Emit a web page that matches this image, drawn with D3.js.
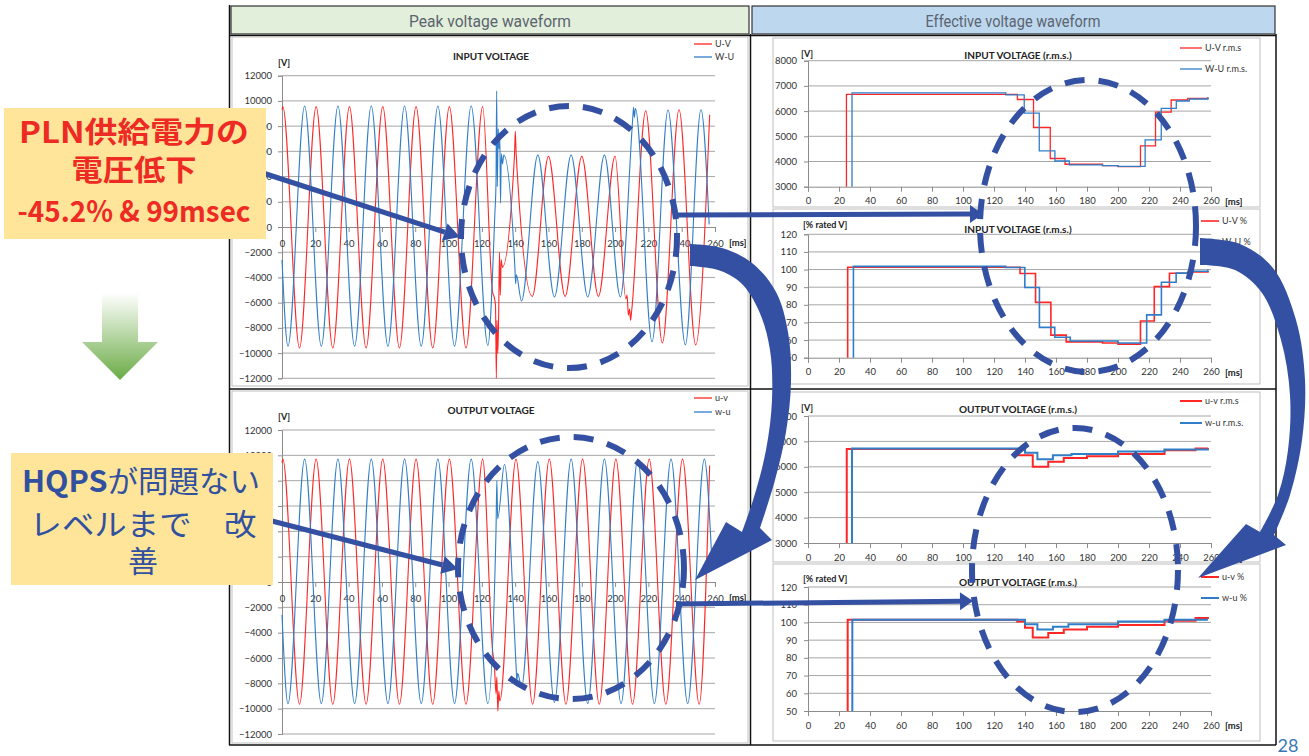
<!DOCTYPE html>
<html><head><meta charset="utf-8">
<script src="https://cdn.jsdelivr.net/npm/d3@7/dist/d3.min.js"></script>
<style>
body{margin:0;background:#fff;}
svg text{font-family:Lato,"Noto Sans",sans-serif;fill:#222;}
.cjk{font-family:"Noto Sans CJK JP","Noto Sans",sans-serif;}
</style></head><body>
<svg id="slide" width="1309" height="756"></svg>
<script>
// ---- data ----
const msTicks = [0,20,40,60,80,100,120,140,160,180,200,220,240,260];
const peakTicks = [-12000,-10000,-8000,-6000,-4000,-2000,0,2000,4000,6000,8000,10000,12000];
const rmsTicks = [3000,4000,5000,6000,7000,8000];
const pctTicks = [50,60,70,80,90,100,110,120];

// peak waveforms: extrema [ms, V]
const inUV = [[0,9300],[0.5,9550],[10.5,-9600],[20.5,9550],[30.5,-9600],[40.5,9550],[50.5,-9600],[60.5,9550],[70.5,-9600],[80.5,9550],[90.5,-9600],[100.5,9550],[110.5,-9600],[120.5,9550],
  [126.5,-5200],[127.3,-5500],[128.2,-6200],[128.7,-12000],[129.1,-7400],[129.6,-10000],[130.1,-7000],[130.6,-2000],[131.1,-5400],[131.6,-2600],[132.3,-3200],
  [139.6,5700],[140.1,7600],[140.6,5800],[150.3,-5500],[160,5600],[170,-5500],[180,5600],[190,-5500],[200,5600],
  [206.5,-5700],[207.2,-5400],[208,-7000],[208.7,-6500],[209.3,-7400],[210,-6600],[218.4,9220],[228.4,-9200],[238.4,9300],[248.4,-9350],[256.8,8900]];
const inWU = [[0,-2600],[3.6,-9450],[13.6,9600],[23.6,-9450],[33.6,9600],[43.6,-9450],[53.6,9600],[63.6,-9450],[73.6,9600],[83.6,-9450],[93.6,9600],[103.6,-9450],[113.6,9600],[123.6,-9400],
  [127.8,1000],[128.5,3500],[128.9,10800],[129.3,3200],[129.8,7800],[130.3,6200],[130.8,7200],[131.2,1900],[131.7,5800],[132.4,5000],[133.2,5700],
  [139.9,-3400],[140.3,-4500],[140.7,-3800],[143.8,-5870],[153.6,5700],[163.6,-5550],[173.6,5700],[183.6,-5550],[193.6,5700],[203.2,-5550],
  [210.6,8600],[211.1,9500],[211.6,8700],[212.2,9400],[222.2,-9100],[231.8,9280],[242.2,-9360],[251.6,9300],[256.5,200]];
const outUV = [[0,9400],[0.5,9700],[10.5,-9650],[20.5,9700],[30.5,-9650],[40.5,9700],[50.5,-9650],[60.5,9700],[70.5,-9650],[80.5,9700],[90.5,-9650],[100.5,9700],[110.5,-9650],[120.5,9700],
  [126.5,-5500],[127.5,-6500],[128.5,-8800],[129,-7500],[129.6,-10200],[130.2,-8600],[130.8,-9400],
  [140.5,9700],[150.5,-9650],[160.5,9700],[170.5,-9650],[180.5,9700],[190.5,-9650],[200.5,9700],[210.5,-9650],[220.5,9700],[230.5,-9650],[240.5,9700],[250.5,-9650],[256.8,9200]];
const outWU = [[0,-2600],[3.6,-9600],[13.6,9700],[23.6,-9600],[33.6,9700],[43.6,-9600],[53.6,9700],[63.6,-9600],[73.6,9700],[83.6,-9600],[93.6,9700],[103.6,-9600],[113.6,9700],[123.6,-9600],
  [128.5,4000],[129,8000],[129.5,5000],[133.6,9300],[140.5,-6500],[141,-7800],[141.5,-7200],[143.8,-8300],[153.6,9500],[163.6,-9500],[173.6,9700],[183.6,-9600],[193.6,9700],[203.6,-9600],
  [213.6,9700],[223.6,-9600],[233.6,9700],[243.6,-9600],[253.6,9700],[258,2000]];

// r.m.s. step series [ms, level from that time]
const inUVrms = [[24.8,3000],[24.8,6660],[135.1,6460],[145.5,5350],[156.3,4120],[165.8,3890],[190,3840],[200,3800],[214.5,4620],[224.2,5960],[234.3,6440],[245,6500],[258,6540]];
const inWUrms = [[28.4,3000],[28.4,6720],[127.6,6640],[139.5,5920],[149.2,4420],[159.3,4020],[168.6,3870],[190,3840],[200,3810],[217.5,4860],[227.9,6110],[237.6,6400],[246,6480],[258,6560]];
const inUVpct = [[25.6,50],[25.6,101.3],[136.8,97.8],[146.8,81.4],[156.7,62.8],[166.6,59],[190,58.3],[200,57.7],[214.5,70.8],[223.4,90.3],[233.2,97.9],[245,98.6],[258,99.2]];
const inWUpct = [[29.3,50],[29.3,101.8],[127.5,101.2],[139.9,89.8],[149.3,67.2],[159.2,61.6],[169.2,59.5],[200,58.3],[218.5,74.3],[228,92.8],[237.5,98],[248,99],[258,100]];
const outUVrms = [[25,3000],[25,6700],[135,6450],[145,6000],[155,6200],[165,6350],[180,6420],[200,6500],[230,6650],[250,6720],[258,6740]];
const outWUrms = [[28.4,3000],[28.4,6720],[140,6550],[148,6300],[158,6450],[170,6500],[200,6600],[230,6680],[258,6700]];
const outUVpct = [[25.6,50],[25.6,101.5],[135,100.5],[140,97],[145,91.5],[155,94],[165,96],[180,97.5],[200,98.5],[230,101],[250,102.5],[258,103]];
const outWUpct = [[28.6,50],[28.6,101.5],[140,99],[148,96],[158,97.5],[168,99],[200,100.5],[230,101.5],[258,101.5]];

const RED = '#ff2626', BLUE = '#2f7ec7', NAVY = '#3450a2';
const fmt = d3.format('d');
const svg = d3.select('#slide');

// ---- table frame ----
svg.append('rect').attr('x',231).attr('y',6).attr('width',518).attr('height',28).attr('fill','#e2efda').attr('stroke','#333').attr('stroke-width',1.2);
svg.append('rect').attr('x',752).attr('y',6).attr('width',523).attr('height',28).attr('fill','#bdd7ee').attr('stroke','#333').attr('stroke-width',1.2);
svg.append('text').attr('x',490).attr('y',27).attr('text-anchor','middle').attr('textLength',162).attr('lengthAdjust','spacingAndGlyphs')
  .style('font-family','"Liberation Sans Narrow",Roboto,sans-serif').style('font-size','17px').style('fill','#5b6470').text('Peak voltage waveform');
svg.append('text').attr('x',1013).attr('y',27).attr('text-anchor','middle').attr('textLength',175).attr('lengthAdjust','spacingAndGlyphs')
  .style('font-family','"Liberation Sans Narrow",Roboto,sans-serif').style('font-size','17px').style('fill','#5b6470').text('Effective voltage waveform');
const frame = [[229.5,5,229.5,745],[750.5,34,750.5,745],[1276,34,1276,745],[229,389,1276,389],[229,745,1276,745],[229,35.5,1276,35.5]];
svg.selectAll('line.frame').data(frame).join('line').attr('class','frame')
  .attr('x1',d=>d[0]).attr('y1',d=>d[1]).attr('x2',d=>d[2]).attr('y2',d=>d[3]).attr('stroke','#111').attr('stroke-width',1.5);
[[232,37,516,349],[232,391,516,352],[773,38,487,169],[773,209,487,175],[773,392,487,170],[773,564,487,177]].forEach(b=>{
  svg.append('rect').attr('x',b[0]).attr('y',b[1]).attr('width',b[2]).attr('height',b[3]).attr('fill','none').attr('stroke','#bfbfbf');
});

function styleAxis(a){
  a.selectAll('path').attr('stroke','#8c8c8c');
  a.selectAll('line').attr('stroke','#8c8c8c');
  a.selectAll('text').style('font-size','9.5px').style('fill','#333');
}

function legend(items, lx, ys){
  items.forEach((it,i)=>{
    svg.append('line').attr('x1',lx).attr('x2',lx+it.len).attr('y1',ys[i]).attr('y2',ys[i]).attr('stroke',it.color).attr('stroke-width',it.w);
    svg.append('text').attr('x',lx+it.len+3).attr('y',ys[i]+3).style('font-size','9px').style('fill','#333').text(it.name);
  });
}

// ---- peak waveform charts ----
function peakChart(c){
  const x = d3.scaleLinear().domain([0,260]).range([282,715]);
  const y = d3.scaleLinear().domain([-12000,12000]).range([c.yb,c.yt]);
  const g = svg.append('g');
  g.selectAll('line.grid').data(peakTicks.filter(v=>v!==0)).join('line')
    .attr('x1',282).attr('x2',715).attr('y1',d=>y(d)).attr('y2',d=>y(d)).attr('stroke','#a6a6a6');
  styleAxis(g.append('g').attr('transform','translate(282,0)').call(d3.axisLeft(y).tickValues(peakTicks).tickFormat(fmt).tickSize(4).tickPadding(6)));
  styleAxis(g.append('g').attr('transform',`translate(0,${y(0)})`).call(d3.axisBottom(x).tickValues(msTicks).tickFormat(fmt).tickSize(5).tickPadding(8)));
  g.append('text').attr('x',729).attr('y',y(0)+19).style('font-size','9.5px').style('font-weight','bold').text('[ms]');
  g.append('text').attr('x',278).attr('y',c.yt-10).style('font-size','9px').style('font-weight','bold').text('[V]');
  g.append('text').attr('x',491).attr('y',c.yt-16).attr('text-anchor','middle').style('font-size','10px').style('font-weight','bold').text(c.title);
  const line = d3.line().x(d=>x(d[0])).y(d=>y(d[1])).curve(d3.curveMonotoneX);
  c.series.forEach(s=>g.append('path').attr('d',line(s.data)).attr('fill','none').attr('stroke',s.color).attr('stroke-width',1.1));
  legend(c.series.map(s=>({name:s.name,color:s.color,len:18,w:1.3})),694,c.leg);
}
peakChart({yt:75.7,yb:378.3,title:'INPUT  VOLTAGE',leg:[44,57],
  series:[{name:'U-V',color:RED,data:inUV},{name:'W-U',color:BLUE,data:inWU}]});
peakChart({yt:430,yb:734,title:'OUTPUT  VOLTAGE',leg:[398,412],
  series:[{name:'u-v',color:RED,data:outUV},{name:'w-u',color:BLUE,data:outWU}]});

// ---- r.m.s. step charts ----
function rmsChart(c){
  const x = d3.scaleLinear().domain([0,260]).range([808,1211]);
  const y = d3.scaleLinear().domain([c.ticks[0],c.ticks[c.ticks.length-1]]).range([c.yb,c.yt]);
  const g = svg.append('g');
  g.selectAll('line.grid').data(c.ticks.slice(1)).join('line')
    .attr('x1',808).attr('x2',1211).attr('y1',d=>y(d)).attr('y2',d=>y(d)).attr('stroke','#a6a6a6');
  styleAxis(g.append('g').attr('transform','translate(808,0)').call(d3.axisLeft(y).tickValues(c.ticks).tickFormat(fmt).tickSize(4).tickPadding(7)));
  styleAxis(g.append('g').attr('transform',`translate(0,${c.yb})`).call(d3.axisBottom(x).tickValues(msTicks).tickFormat(fmt).tickSize(5).tickPadding(6)));
  g.append('text').attr('x',1225).attr('y',c.yb+18).style('font-size','9.5px').style('font-weight','bold').text('[ms]');
  g.append('text').attr('x',c.unitX).attr('y',c.unitY).style('font-size','9px').style('font-weight','bold').text(c.unit);
  g.append('text').attr('x',1018).attr('y',c.titleY).attr('text-anchor','middle').style('font-size','10px').style('font-weight','bold').text(c.title);
  const line = d3.line().x(d=>x(d[0])).y(d=>y(d[1])).curve(d3.curveStepAfter);
  c.series.forEach(s=>g.append('path').attr('d',line(s.data)).attr('fill','none').attr('stroke',s.color).attr('stroke-width',c.w));
  legend(c.series.map(s=>({name:s.name,color:s.color,len:c.legLen,w:c.w})),c.legX,c.leg);
}
rmsChart({ticks:rmsTicks,yt:60.7,yb:186.7,title:'INPUT  VOLTAGE  (r.m.s.)',titleY:59,unit:'[V]',unitX:801,unitY:57,w:1.3,legLen:22,legX:1180,leg:[48,69],
  series:[{name:'U-V r.m.s',color:RED,data:inUVrms},{name:'W-U r.m.s.',color:BLUE,data:inWUrms}]});
rmsChart({ticks:pctTicks,yt:234.3,yb:357.7,title:'INPUT  VOLTAGE  (r.m.s.)',titleY:233,unit:'[% rated V]',unitX:803,unitY:228,w:1.6,legLen:18,legX:1201,leg:[221,242],
  series:[{name:'U-V %',color:RED,data:inUVpct},{name:'W-U %',color:BLUE,data:inWUpct}]});
rmsChart({ticks:rmsTicks,yt:416,yb:543,title:'OUTPUT  VOLTAGE  (r.m.s.)',titleY:413,unit:'[V]',unitX:801,unitY:411,w:2,legLen:22,legX:1180,leg:[401,423],
  series:[{name:'u-v r.m.s',color:RED,data:outUVrms},{name:'w-u r.m.s.',color:BLUE,data:outWUrms}]});
rmsChart({ticks:pctTicks,yt:587,yb:711,title:'OUTPUT  VOLTAGE  (r.m.s.)',titleY:586,unit:'[% rated V]',unitX:803,unitY:582,w:2,legLen:18,legX:1201,leg:[577,598],
  series:[{name:'u-v %',color:RED,data:outUVpct},{name:'w-u %',color:BLUE,data:outWUpct}]});

// ---- annotations ----
const ellipses = [[569,237,108,131],[1088,226,108,146],[571,568,113,131],[1075,570,103,142]];
svg.selectAll('ellipse.ann').data(ellipses).join('ellipse').attr('class','ann')
  .attr('cx',d=>d[0]).attr('cy',d=>d[1]).attr('rx',d=>d[2]).attr('ry',d=>d[3])
  .attr('fill','none').attr('stroke',NAVY).attr('stroke-width',6).attr('stroke-dasharray','20 14');

function arrow(x1,y1,x2,y2,w,hl,hw){
  const a = Math.atan2(y2-y1,x2-x1), c = Math.cos(a), s = Math.sin(a);
  const bx = x2-hl*c, by = y2-hl*s;
  svg.append('line').attr('x1',x1).attr('y1',y1).attr('x2',bx).attr('y2',by).attr('stroke',NAVY).attr('stroke-width',w);
  svg.append('path').attr('fill',NAVY)
    .attr('d',`M${x2},${y2}L${bx-hw*s},${by+hw*c}L${bx+hw*s},${by-hw*c}Z`);
}
arrow(263,173,460,237,5,16,9);
arrow(268,520,458,569,5,16,9);
arrow(676,215,983,214,5,13,9);
arrow(676,604,973,601,5,13,9);

function bandArrow(outer,inner,head){
  const cr = d3.line().curve(d3.curveCatmullRom);
  const p = cr(outer) + 'L' + head.map(h=>h.join(',')).join('L') + cr(inner.slice().reverse()).replace('M','L') + 'Z';
  svg.append('path').attr('d',p).attr('fill',NAVY);
}
bandArrow([[690,244],[722,248],[752,263],[776,292],[788,332],[791,382],[786,432],[775,480],[760,528]],
  [[690,266],[718,270],[741,283],[759,311],[770,350],[772,400],[766,450],[754,497],[742,532]],
  [[772,540],[695,580],[726,522]]);
bandArrow([[1200,238],[1240,244],[1273,268],[1296,320],[1305,380],[1302,440],[1290,495],[1274,535]],
  [[1200,265],[1235,270],[1262,293],[1281,340],[1290,395],[1288,450],[1278,495],[1260,532]],
  [[1286,545],[1198,578],[1246,524]]);

// callouts
svg.append('rect').attr('x',4).attr('y',108).attr('width',262).attr('height',131).attr('fill','#ffe599');
[['PLN供給電力の',143,230],['電圧低下',181,125],['-45.2% & 99msec',222,233]].forEach(t=>{
  svg.append('text').attr('class','cjk').attr('x',134).attr('y',t[1]).attr('text-anchor','middle')
    .attr('textLength',t[2]).attr('lengthAdjust','spacingAndGlyphs')
    .style('font-size','29px').style('font-weight','bold').style('fill','#ee2a24').text(t[0]);
});
svg.append('rect').attr('x',11).attr('y',453).attr('width',262).attr('height',132).attr('fill','#ffe599');
const l1 = svg.append('text').attr('class','cjk').attr('x',141).attr('y',492).attr('text-anchor','middle')
  .attr('textLength',238).attr('lengthAdjust','spacingAndGlyphs').style('font-size','30px').style('fill','#3150a0');
l1.append('tspan').style('font-weight','bold').style('fill','#3150a0').text('HQPS');
l1.append('tspan').style('fill','#3150a0').text('が問題ない');
[['レベルまで　改',535,227],['善',572,30]].forEach(t=>{
  svg.append('text').attr('class','cjk').attr('x',143).attr('y',t[1]).attr('text-anchor','middle')
    .attr('textLength',t[2]).attr('lengthAdjust','spacingAndGlyphs').style('font-size','30px').style('fill','#3150a0').text(t[0]);
});

// green down arrow
const grad = svg.append('defs').append('linearGradient').attr('id','gr').attr('x1',0).attr('y1',0).attr('x2',0).attr('y2',1);
grad.append('stop').attr('offset','0%').attr('stop-color','#ffffff');
grad.append('stop').attr('offset','100%').attr('stop-color','#6aab45');
svg.append('path').attr('d','M102,293L138,293L138,342L158,342L120,380L82,342L102,342Z').attr('fill','url(#gr)');

svg.append('text').attr('x',1288).attr('y',752).attr('text-anchor','middle').style('font-size','18px').style('fill','#3a78b5').text('28');
</script>
</body></html>
